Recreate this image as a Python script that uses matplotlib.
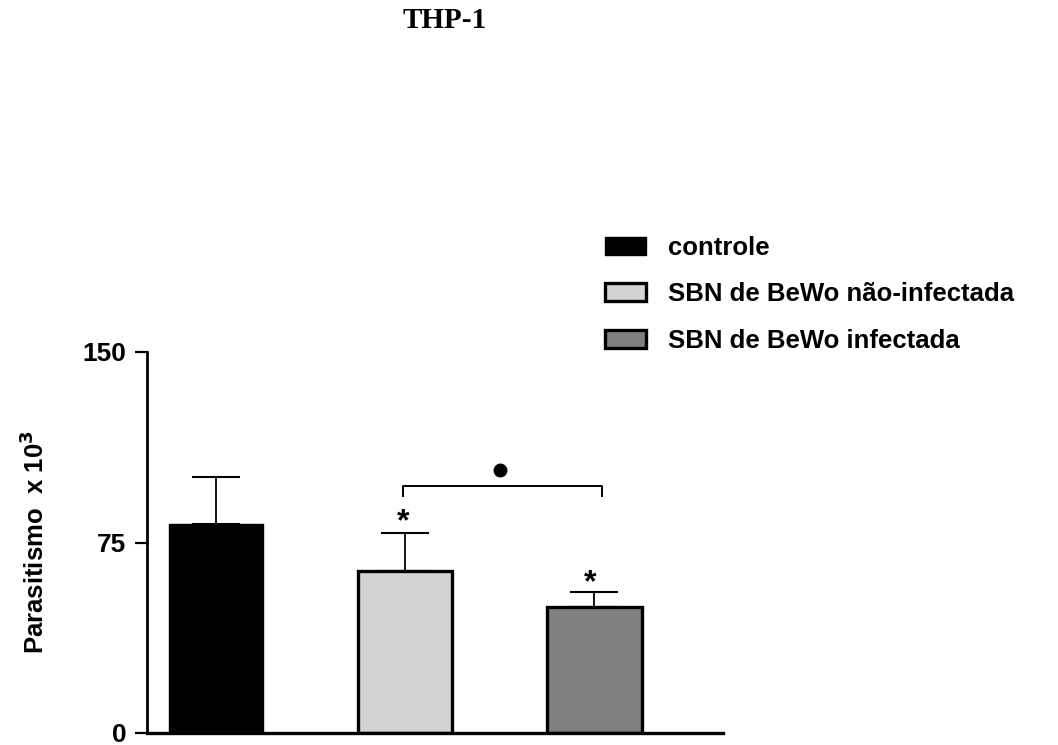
import matplotlib
matplotlib.use('Agg')
import matplotlib.pyplot as plt
from matplotlib.patches import Patch

# data
groups = ['controle', 'SBN de BeWo não-infectada', 'SBN de BeWo infectada']
means = [82.1, 63.6, 49.7]
errs = [18.5, 15.0, 6.0]
colors = ['#000000', '#d3d3d3', '#808080']
edge_widths = [1.0, 2.4, 2.4]

# significance marks (x in group units, y in data units)
star_x = [0.99, 1.98]
star_y = [82.8, 59.0]
bracket_x = [0.99, 2.04]
bracket_y = 97.1
bracket_tip = 93.2
dot_x = 1.5
dot_y = 103.4

plt.rcParams['font.family'] = ['Liberation Sans', 'DejaVu Sans']

fig = plt.figure(figsize=(10.58, 7.45), dpi=100)
ax = fig.add_axes([147 / 1058, 1 - 733 / 745, (723 - 147) / 1058, (733 - 352) / 745])

x = list(range(len(groups)))
for i in x:
    ax.bar(i, means[i], width=0.5, color=colors[i], edgecolor='black',
           linewidth=edge_widths[i], zorder=2)
    ax.errorbar(i, means[i], yerr=[[0], [errs[i]]], fmt='none', ecolor='black',
                elinewidth=1.3, capsize=17, capthick=1.5, zorder=1)

for sx, sy in zip(star_x, star_y):
    ax.text(sx, sy, '*', ha='center', va='center', fontsize=23, fontweight='bold')

ax.plot([bracket_x[0], bracket_x[0], bracket_x[1], bracket_x[1]],
        [bracket_tip, bracket_y, bracket_y, bracket_tip], color='black', lw=1.4)
ax.plot([dot_x], [dot_y], 'o', color='black', markersize=9)

ax.set_xlim(-0.365, 2.68)
ax.set_ylim(0, 150)
ax.set_yticks([0, 75, 150])
ax.set_xticks([])
ax.spines['top'].set_visible(False)
ax.spines['right'].set_visible(False)
ax.spines['left'].set_linewidth(2.0)
ax.spines['bottom'].set_linewidth(2.4)
ax.tick_params(axis='y', length=9, width=1.6, pad=6, labelsize=19)
for lab in ax.get_yticklabels():
    lab.set_fontweight('bold')
ax.set_ylabel('Parasitismo  x 10$^\\mathbf{3}$', fontsize=18.5, fontweight='bold')
ax.yaxis.set_label_coords(-0.171, 0.5)

handles = [Patch(facecolor=c, edgecolor='black', linewidth=w) for c, w in zip(colors, edge_widths)]
leg = fig.legend(handles, groups, loc='upper left', bbox_to_anchor=(587 / 1058, 1 - 218 / 745),
                 frameon=False, prop={'weight': 'bold', 'size': 18.5},
                 handlelength=1.6, handleheight=0.7, handletextpad=0.85, labelspacing=0.87,
                 borderpad=0.2)

fig.text(445 / 1058, 1 - 20 / 745, 'THP-1', ha='center', va='center', fontsize=21,
         fontweight='bold', family='Liberation Serif')

fig.savefig('out.png', dpi=100)
